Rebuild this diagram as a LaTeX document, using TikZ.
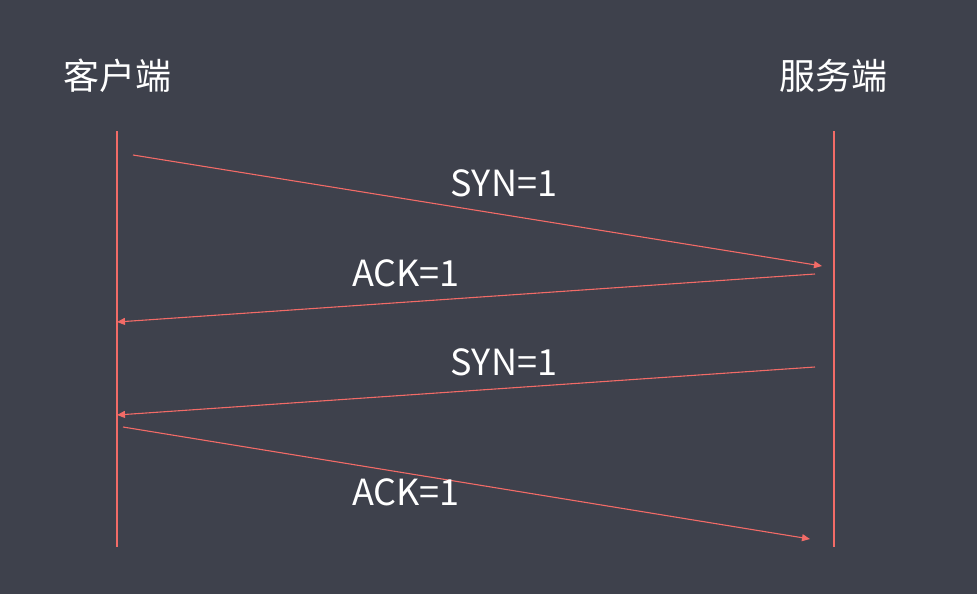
\documentclass[tikz,border=0pt]{standalone}
\usepackage{fontspec}
\setmainfont{Noto Sans CJK SC}
\usetikzlibrary{arrows.meta}
\definecolor{bgdark}{HTML}{3E414C}
\definecolor{salmon}{HTML}{F26B67}

\begin{document}
\begin{tikzpicture}[x=1pt, y=-1pt,
  lifeline/.style={draw=salmon, line width=1.1pt},
  msg/.style={draw=salmon, line width=1.1pt, -{Triangle[length=8pt, width=7pt]}},
  peer/.style={text=white, font=\fontsize{36}{40}\selectfont},
  flag/.style={text=white, font=\fontsize{36}{40}\selectfont}]
\fill[bgdark] (0,0) rectangle (977,594);
\useasboundingbox (0,0) rectangle (977,594);
\node[peer] (client) at (117,76) {客户端};
\node[peer] (server) at (833,76) {服务端};
\coordinate (ctop) at (117,131);
\coordinate (cbot) at (117,547);
\coordinate (stop) at (834,131);
\coordinate (sbot) at (834,547);
\draw[lifeline] (ctop) -- (cbot);
\draw[lifeline] (stop) -- (sbot);
\coordinate (syn1a) at (133,155);
\coordinate (syn1b) at (822,266);
\coordinate (ack1a) at (815,274);
\coordinate (ack1b) at (117,322);
\coordinate (syn2a) at (815,367);
\coordinate (syn2b) at (117,415);
\coordinate (ack2a) at (123,427);
\coordinate (ack2b) at (810,539);
\draw[msg] (syn1a) -- (syn1b);
\draw[msg] (ack1a) -- (ack1b);
\draw[msg] (syn2a) -- (syn2b);
\draw[msg] (ack2a) -- (ack2b);
\node[flag] (synlabel1) at (504,183) {SYN=1};
\node[flag] (acklabel1) at (406,273) {ACK=1};
\node[flag] (synlabel2) at (504,362) {SYN=1};
\node[flag] (acklabel2) at (406,492) {ACK=1};
\end{tikzpicture}
\end{document}
